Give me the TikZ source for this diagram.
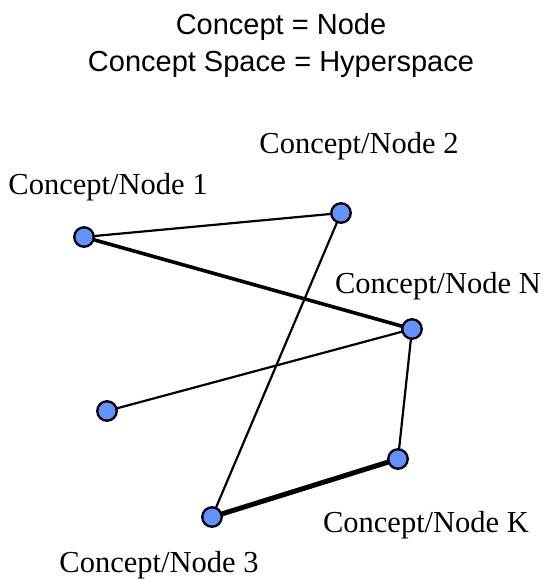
\documentclass[tikz,border=0pt]{standalone}
\usepackage{fontspec}
\setmainfont{Liberation Serif}
\newfontfamily\arialf{Liberation Sans}
\usetikzlibrary{backgrounds}
\definecolor{nodeblue}{RGB}{98,146,255}
\begin{document}
\begin{tikzpicture}[x=1pt,y=-1pt,
  dot/.style={circle,draw=black,line width=2.3pt,fill=nodeblue,minimum size=19.5pt,inner sep=0pt},
  thinedge/.style={line width=2.2pt},
  midedge/.style={line width=3.6pt},
  thickedge/.style={line width=5pt},
  lbl/.style={font=\fontsize{30.5}{33}\selectfont,inner sep=0pt,anchor=base},
  ttl/.style={font=\arialf\fontsize{29}{37}\selectfont,inner sep=0pt,anchor=base}]
\useasboundingbox (0,0) rectangle (543,579);
\node[ttl] (title1) at (281,34) {Concept = Node};
\node[ttl] (title2) at (281,71) {Concept Space = Hyperspace};
\node[dot] (n1) at (84,237) {};
\node[dot] (n2) at (341,213) {};
\node[dot] (nN) at (412,329) {};
\node[dot] (n4) at (107,411) {};
\node[dot] (nK) at (398,459) {};
\node[dot] (n3) at (212,517) {};
\begin{scope}[on background layer]
\draw[thinedge] (n1.center) -- (n2.center);
\draw[midedge] (n1.center) -- (nN.center);
\draw[thinedge] (n2.center) -- (n3.center);
\draw[thinedge] (nN.center) -- (n4.center);
\draw[thinedge] (nN.center) -- (nK.center);
\draw[thickedge] (nK.center) -- (n3.center);
\end{scope}
\node[lbl] (l2) at (359,153) {Concept/Node 2};
\node[lbl] (l1) at (108,194) {Concept/Node 1};
\node[lbl] (lN) at (438,293) {Concept/Node N};
\node[lbl] (lK) at (426,532) {Concept/Node K};
\node[lbl] (l3) at (159,572) {Concept/Node 3};
\end{tikzpicture}
\end{document}
